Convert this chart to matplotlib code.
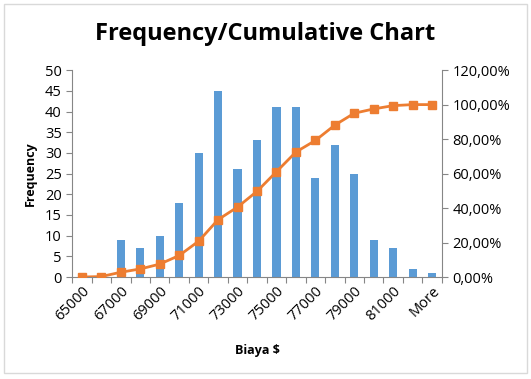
import matplotlib
matplotlib.use("Agg")
import matplotlib.pyplot as plt
from matplotlib.patches import Rectangle
from matplotlib.ticker import FuncFormatter, MultipleLocator

plt.rcParams["font.family"] = ["Open Sans", "DejaVu Sans"]

categories = ["65000", "66000", "67000", "68000", "69000", "70000", "71000",
              "72000", "73000", "74000", "75000", "76000", "77000", "78000",
              "79000", "80000", "81000", "82000", "More"]
frequency = [0, 0, 9, 7, 10, 18, 30, 45, 26, 33, 41, 41, 24, 32, 25, 9, 7, 2, 1]
cumulative = [0.0, 0.3, 2.8, 4.7, 7.5, 12.5, 20.8, 33.3, 40.6, 49.7, 61.1,
              72.5, 79.2, 88.1, 95.0, 97.5, 99.4, 100.0, 100.0]

BLUE = "#5b9bd5"
ORANGE = "#ed7d31"
AXIS = "#868686"

fig = plt.figure(figsize=(5.31, 3.79), dpi=100)
fig.patches.append(Rectangle((0.008, 0.015), 0.984, 0.975, transform=fig.transFigure,
                             fill=False, edgecolor="#d9d9d9", linewidth=1))

ax = fig.add_axes([0.136, 0.269, 0.696, 0.546])
x = list(range(len(categories)))
ax.bar(x, frequency, width=0.42, color=BLUE, zorder=2)
ax.set_xlim(-0.5, len(categories) - 0.5)
ax.set_ylim(0, 50)
ax.yaxis.set_major_locator(MultipleLocator(5))

# category boundaries get the tick marks, labels sit on every other category
ax.set_xticks([i - 0.5 for i in range(len(categories) + 1)])
ax.set_xticklabels([])
ax.set_xticks(x[::2], minor=True)
ax.set_xticklabels(categories[::2], minor=True, rotation=45, ha="right",
                   rotation_mode="anchor", fontsize=10.5)
ax.tick_params(axis="x", which="minor", length=0, pad=5)
ax.tick_params(axis="x", which="major", length=4, color=AXIS)
ax.tick_params(axis="y", length=4, color=AXIS, labelsize=10.5)

for side in ["top", "right"]:
    ax.spines[side].set_visible(False)
for side in ["left", "bottom"]:
    ax.spines[side].set_color(AXIS)

ax.set_ylabel("Frequency", fontsize=9, fontweight="bold", labelpad=6)
ax.set_xlabel("Biaya $", fontsize=9, fontweight="bold", labelpad=14)

ax2 = ax.twinx()
ax2.plot(x, cumulative, color=ORANGE, linewidth=2, marker="s", markersize=6, zorder=3)
ax2.set_ylim(0, 120)
ax2.yaxis.set_major_locator(MultipleLocator(20))
ax2.yaxis.set_major_formatter(FuncFormatter(lambda v, p: f"{v:.2f}%".replace(".", ",")))
ax2.tick_params(axis="y", length=4, color=AXIS, labelsize=10.5)
for side in ["top", "left", "bottom"]:
    ax2.spines[side].set_visible(False)
ax2.spines["right"].set_color(AXIS)

fig.text(0.5, 0.91, "Frequency/Cumulative Chart", ha="center", va="center",
         fontsize=17, fontweight="bold")

fig.savefig("out.png", dpi=100)
